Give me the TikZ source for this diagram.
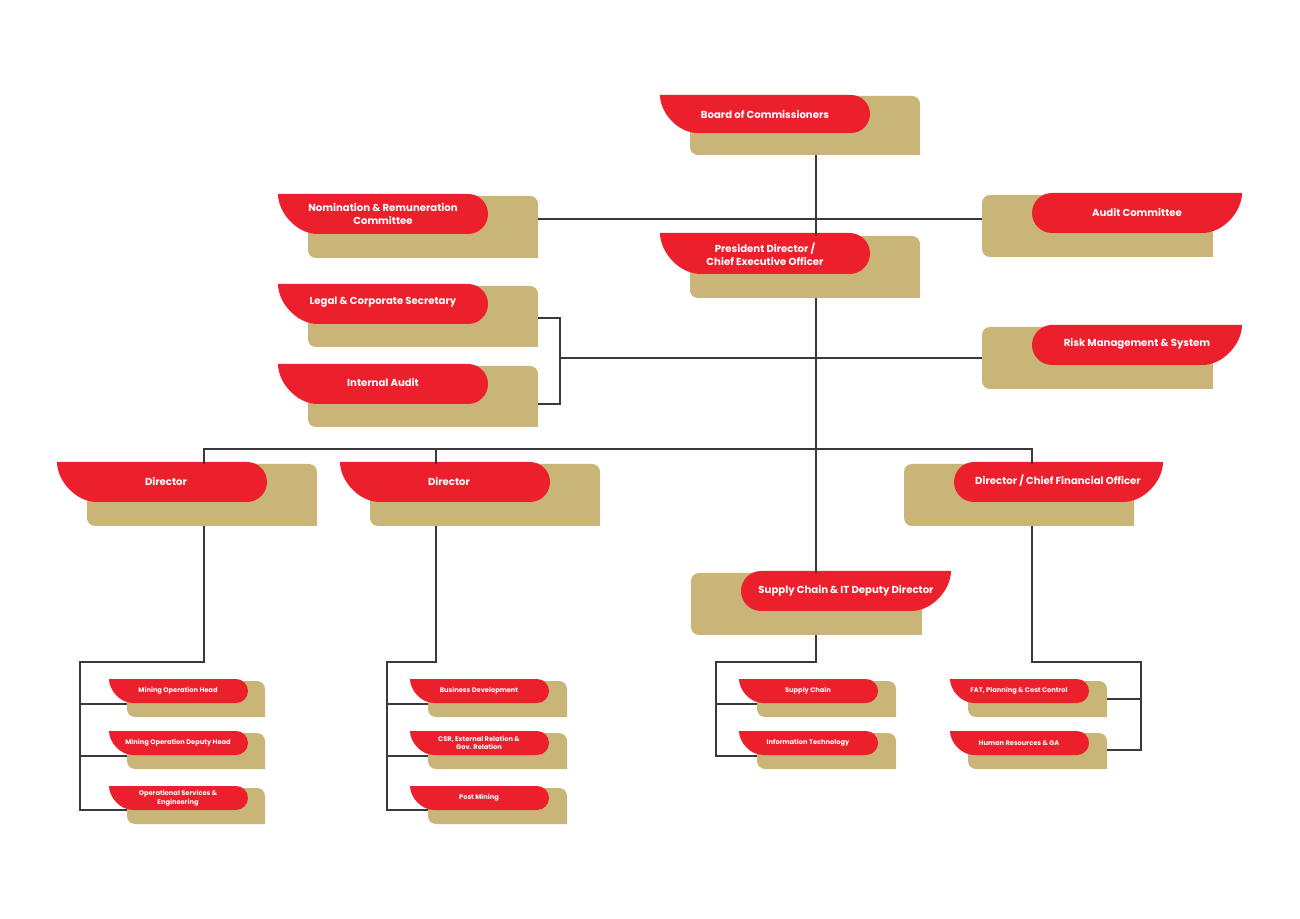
\documentclass[tikz,border=0pt]{standalone}
\usepackage{fontspec}
\setmainfont{Poppins}
\usetikzlibrary{calc}
\definecolor{tabred}{HTML}{EC1F2D}
\definecolor{tabtan}{HTML}{C9B577}
\definecolor{wire}{HTML}{3A3A3A}
% tab shapes, left-hand and right-hand variants
\newcommand{\redL}[4]{\fill[tabred] (#1,#2) [rounded corners={(#4-#2)/2*0.75pt}] -- (#3,#2) -- (#3,#4) [sharp corners] -- ({#1+(#4-#2)},#4) .. controls ({#1+0.45*(#4-#2)},#4) and (#1,{#2+0.45*(#4-#2)}) .. (#1,#2) -- cycle;}
\newcommand{\redR}[4]{\fill[tabred] (#3,#2) [rounded corners={(#4-#2)/2*0.75pt}] -- (#1,#2) -- (#1,#4) [sharp corners] -- ({#3-(#4-#2)},#4) .. controls ({#3-0.45*(#4-#2)},#4) and (#3,{#2+0.45*(#4-#2)}) .. (#3,#2) -- cycle;}
\newcommand{\tanL}[4]{\fill[tabtan] (#1,#2) [rounded corners=6pt] -- (#3,#2) [sharp corners] -- (#3,#4) [rounded corners=6pt] -- (#1,#4) [sharp corners] -- cycle;}
\newcommand{\tanR}[4]{\fill[tabtan] (#3,#2) [rounded corners=6pt] -- (#1,#2) -- (#1,#4) [sharp corners] -- (#3,#4) -- cycle;}
\tikzset{
  big/.style={text=white, font=\fontsize{7.6}{9.5}\selectfont\bfseries, align=center, inner sep=0},
  small/.style={text=white, font=\fontsize{5}{6.5}\selectfont\bfseries, align=center, inner sep=0},
  link/.style={wire, line width=0.8pt}
}
\begin{document}
\begin{tikzpicture}[x=0.75pt,y=-0.75pt]
\useasboundingbox (0,0) rectangle (1300,919);

% top level
\tanL{690}{96}{920}{155}   \redL{660}{95}{870}{133}
\node[big] (board) at (765,114) {Board of Commissioners};
\tanL{308}{196}{538}{258}  \redL{278}{194}{488}{234}
\node[big] (nomination) at (383,214) {Nomination \& Remuneration\\Committee};
\tanL{690}{236}{920}{298}  \redL{660}{233}{870}{274}
\node[big] (ceo) at (765,254) {President Director /\\Chief Executive Officer};
\tanL{308}{286}{538}{347}  \redL{278}{284}{488}{324}
\node[big] (legal) at (383,302) {Legal \& Corporate Secretary};
\tanL{308}{366}{538}{427}  \redL{278}{364}{488}{404}
\node[big] (internal) at (383,382) {Internal Audit};
\tanR{982}{195}{1213}{257} \redR{1032}{193}{1242}{233}
\node[big] (audit) at (1137,212) {Audit Committee};
\tanR{982}{327}{1213}{389} \redR{1032}{325}{1242}{365}
\node[big] (risk) at (1137,344) {Risk Management \& System};

% directors
\tanL{87}{464}{317}{526}   \redL{57}{462}{267}{502}
\node[big] (dirA) at (166,481) {Director};
\tanL{370}{464}{600}{526}  \redL{340}{462}{550}{502}
\node[big] (dirB) at (449,481) {Director};
\tanR{904}{464}{1134}{526} \redR{954}{462}{1163}{502}
\node[big] (cfo) at (1058,481) {Director / Chief Financial Officer};
\tanR{691}{573}{922}{635}  \redR{741}{571}{951}{611}
\node[big] (deputy) at (846,591) {Supply Chain \& IT Deputy Director};

% units
\foreach \y/\nm/\txt in {679/mohead/Mining Operation Head, 731/modeputy/Mining Operation Deputy Head, 786/opserv/{Operational Services \&\\Engineering}}{
  \tanL{127}{\y+2}{265}{\y+38} \redL{109}{\y}{248}{\y+24}
  \node[small] (\nm) at (178,\y+12) {\txt};
}
\foreach \y/\nm/\txt in {679/bizdev/Business Development, 731/csr/{CSR, External Relation \&\\Gov. Relation}, 786/postmining/Post Mining}{
  \tanL{428}{\y+2}{567}{\y+38} \redL{410}{\y}{549}{\y+24}
  \node[small] (\nm) at (479,\y+12) {\txt};
}
\foreach \y/\nm/\txt in {679/supply/Supply Chain, 731/infotech/Information Technology}{
  \tanL{757}{\y+2}{896}{\y+38} \redL{739}{\y}{878}{\y+24}
  \node[small] (\nm) at (808,\y+12) {\txt};
}
\foreach \y/\nm/\txt in {679/fat/{FAT, Planning \& Cost Control}, 731/hr/{Human Resources \& GA}}{
  \tanL{968}{\y+2}{1107}{\y+38} \redL{950}{\y}{1089}{\y+24}
  \node[small] (\nm) at (1019,\y+12) {\txt};
}

% connectors
\begin{scope}[on background layer/.try]
\end{scope}
\coordinate (boardS) at (816,155);
\coordinate (deputyN) at (816,573);
\draw[link] (boardS) -- (816,236);
\draw[link] (816,298) -- (deputyN);
\draw[link] (538,219) -- (982,219);
\draw[link] (538,318) -- (560,318) -- (560,404) -- (538,404);
\draw[link] (560,358) -- (982,358);
\draw[link] (204,464) -- (204,449) -- (1032,449) -- (1032,464);
\draw[link] (436,449) -- (436,464);
% branches
\draw[link] (204,526) -- (204,662) -- (80,662) -- (80,810) -- (127,810);
\draw[link] (80,704) -- (127,704) (80,756) -- (127,756);
\draw[link] (436,526) -- (436,662) -- (387,662) -- (387,810) -- (428,810);
\draw[link] (387,704) -- (428,704) (387,756) -- (428,756);
\draw[link] (816,635) -- (816,662) -- (716,662) -- (716,756) -- (757,756);
\draw[link] (716,704) -- (757,704);
\draw[link] (1032,526) -- (1032,662) -- (1141,662) -- (1141,750) -- (1107,750);
\draw[link] (1141,699) -- (1107,699);
\end{tikzpicture}
\end{document}
